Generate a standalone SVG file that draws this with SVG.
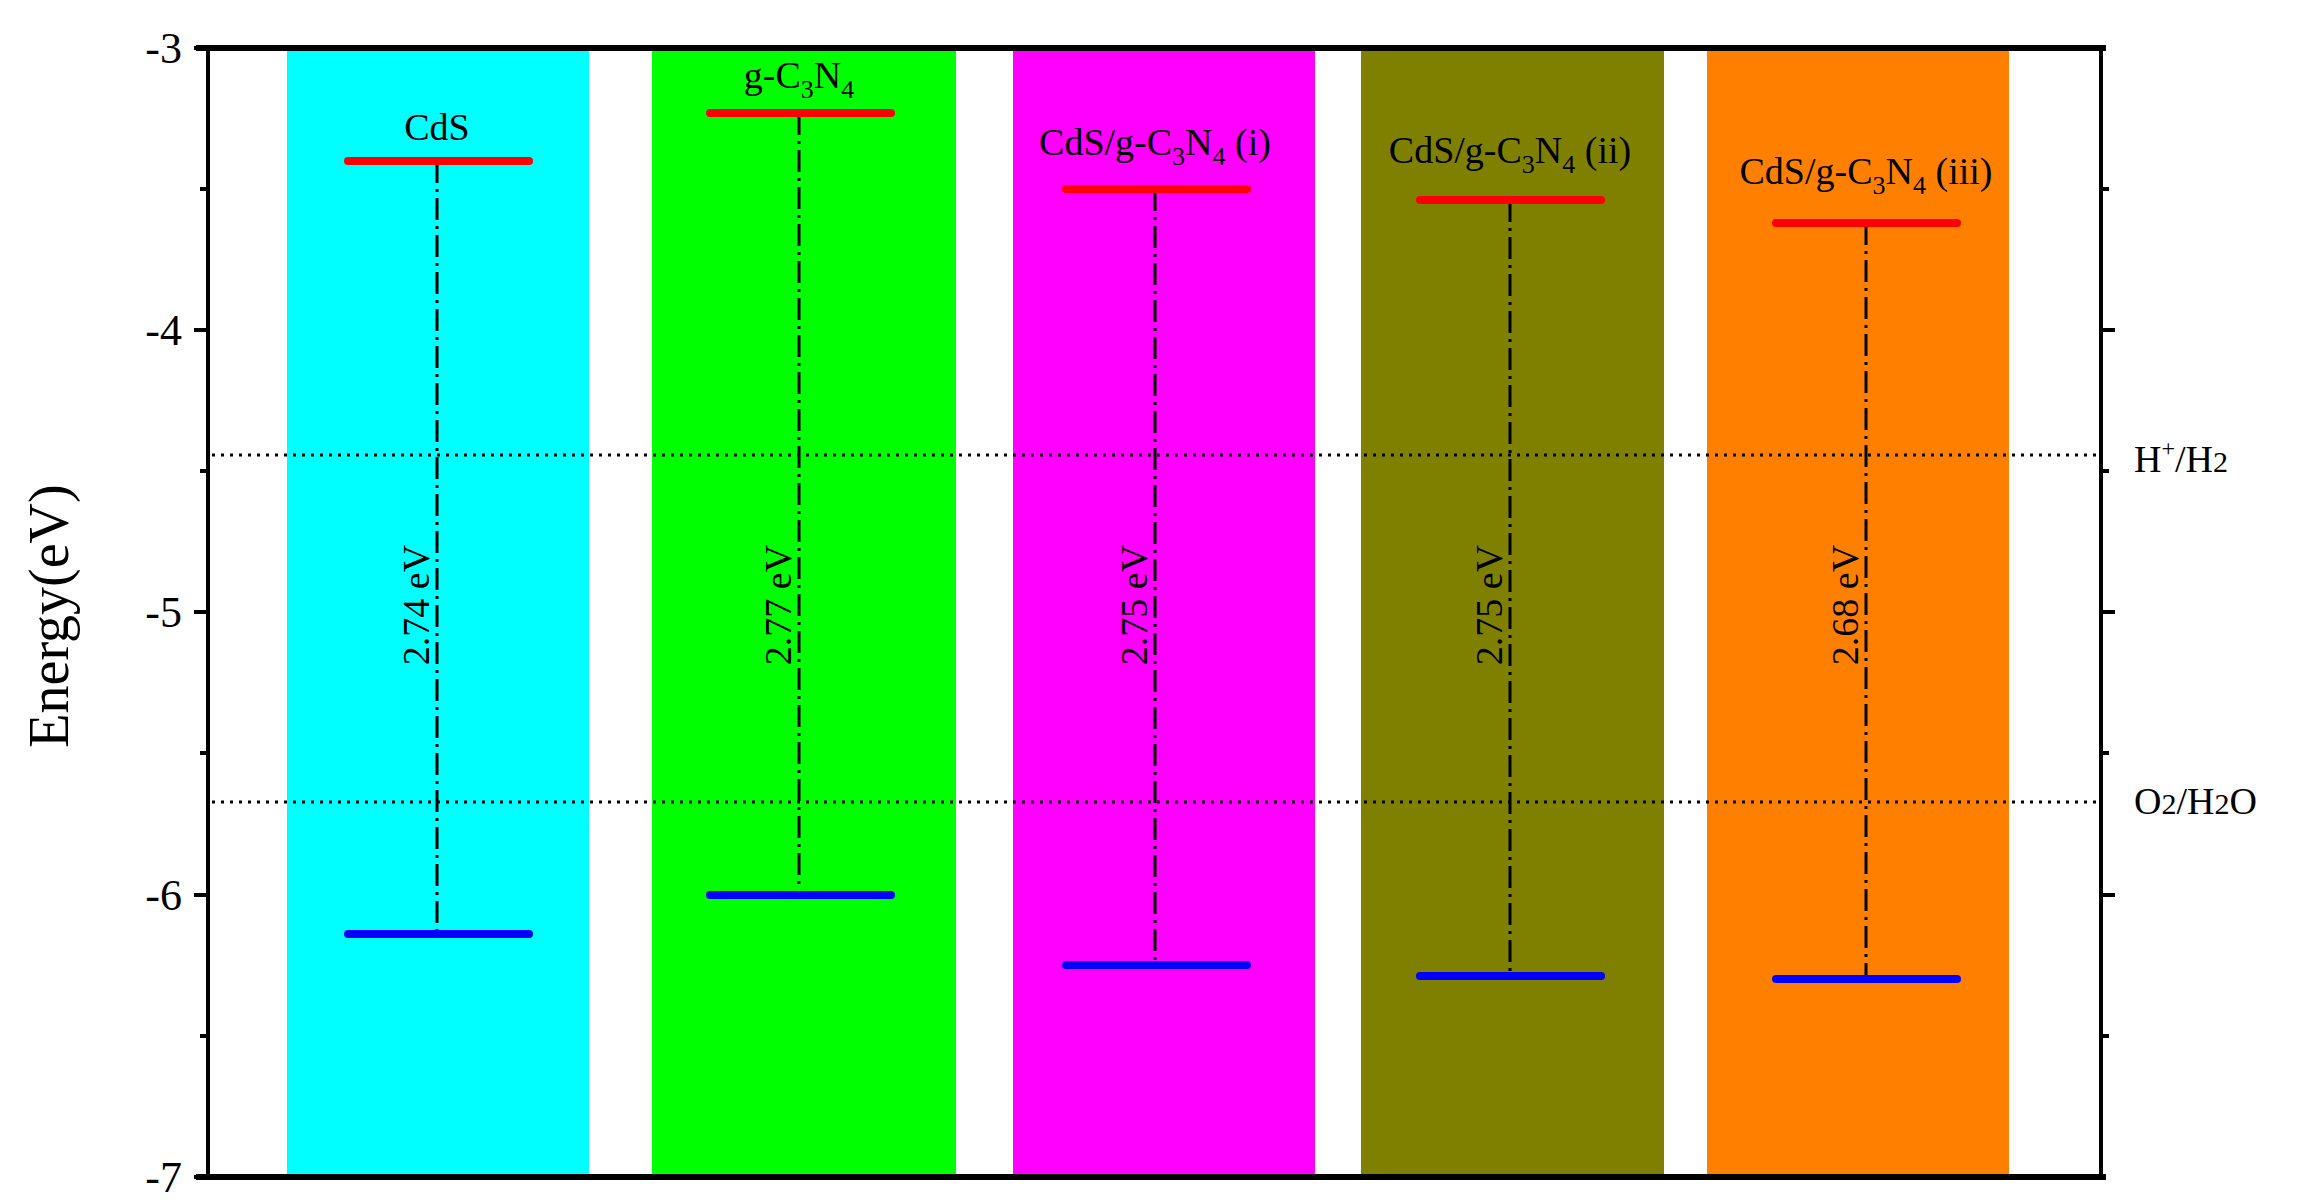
<svg xmlns="http://www.w3.org/2000/svg" width="2299" height="1199" viewBox="0 0 2299 1199">
<style>
text{font-family:"Liberation Serif","Times New Roman",serif;fill:#000}
.cb{font-size:38px;text-anchor:middle}
.gap{font-size:38px;text-anchor:middle}
.tk{font-size:44px;text-anchor:end}
.cb2{stroke:#f00;stroke-width:8;stroke-linecap:round}
.vb{stroke:#00f;stroke-width:8;stroke-linecap:round}
.dd{stroke:#000;stroke-width:3;stroke-dasharray:22,6,3,6;fill:none}
.dot{stroke:#000;stroke-width:3;stroke-dasharray:3,6}
.ax{stroke:#000;stroke-width:4;fill:none}
</style>
<rect width="2299" height="1199" fill="#fff"/>
<g id="bands">
<rect x="287" y="48" width="302" height="1126" fill="#00ffff"/>
<rect x="652" y="48" width="304" height="1129" fill="#00ff00"/>
<rect x="1013" y="48" width="302" height="1126" fill="#ff00ff"/>
<rect x="1361" y="48" width="303" height="1126" fill="#808000"/>
<rect x="1707" y="48" width="302" height="1126" fill="#ff8000"/>
</g>
<g id="refs">
<line class="dot" x1="212" y1="455" x2="2098" y2="455"/>
<line class="dot" x1="212" y1="802" x2="2098" y2="802"/>
</g>
<g id="connectors">
<line class="dd" x1="437" y1="161" x2="437" y2="934"/>
<line class="dd" x1="799" y1="113" x2="799" y2="885"/>
<line class="dd" x1="1155" y1="189" x2="1155" y2="965"/>
<line class="dd" x1="1510" y1="200" x2="1510" y2="976"/>
<line class="dd" x1="1866" y1="223" x2="1866" y2="979"/>
</g>
<g id="CdS">
<line class="cb2" x1="348" y1="161" x2="529" y2="161"/>
<line class="vb" x1="348" y1="934" x2="529" y2="934"/>
<text class="cb" x="437" y="140">CdS</text>
<text class="gap" transform="translate(429,605) rotate(-90)">2.74 eV</text>
</g>
<g id="gC3N4">
<line class="cb2" x1="710" y1="113" x2="891" y2="113"/>
<line class="vb" x1="710" y1="895" x2="891" y2="895"/>
<text class="cb" x="799" y="88">g-C<tspan font-size="26" dy="10">3</tspan><tspan dy="-10">N</tspan><tspan font-size="26" dy="10">4</tspan></text>
<text class="gap" transform="translate(791,605) rotate(-90)">2.77 eV</text>
</g>
<g id="i">
<line class="cb2" x1="1066" y1="189" x2="1247" y2="189"/>
<line class="vb" x1="1066" y1="965" x2="1247" y2="965"/>
<text class="cb" x="1155" y="155">CdS/g-C<tspan font-size="26" dy="10">3</tspan><tspan dy="-10">N</tspan><tspan font-size="26" dy="10">4</tspan><tspan dy="-10"> (i)</tspan></text>
<text class="gap" transform="translate(1147,605) rotate(-90)">2.75 eV</text>
</g>
<g id="ii">
<line class="cb2" x1="1420" y1="200" x2="1601" y2="200"/>
<line class="vb" x1="1420" y1="976" x2="1601" y2="976"/>
<text class="cb" x="1510" y="163">CdS/g-C<tspan font-size="26" dy="10">3</tspan><tspan dy="-10">N</tspan><tspan font-size="26" dy="10">4</tspan><tspan dy="-10"> (ii)</tspan></text>
<text class="gap" transform="translate(1502,605) rotate(-90)">2.75 eV</text>
</g>
<g id="iii">
<line class="cb2" x1="1776" y1="223" x2="1957" y2="223"/>
<line class="vb" x1="1776" y1="979" x2="1957" y2="979"/>
<text class="cb" x="1866" y="184">CdS/g-C<tspan font-size="26" dy="10">3</tspan><tspan dy="-10">N</tspan><tspan font-size="26" dy="10">4</tspan><tspan dy="-10"> (iii)</tspan></text>
<text class="gap" transform="translate(1858,605) rotate(-90)">2.68 eV</text>
</g>
<g id="axes">
<line x1="196" y1="48" x2="2106" y2="48" stroke="#000" stroke-width="6"/>
<line x1="196" y1="1177" x2="2106" y2="1177" stroke="#000" stroke-width="6"/>
<line class="ax" x1="208" y1="48" x2="208" y2="1177"/>
<line class="ax" x1="2101" y1="48" x2="2101" y2="1177"/>
<path class="ax" d="M194 48H208M194 330H208M194 612H208M194 895H208M194 1177H208M200 189H208M200 471H208M200 753H208M200 1036H208"/>
<path class="ax" d="M2101 330H2115M2101 612H2115M2101 895H2115M2101 189H2109M2101 471H2109M2101 753H2109M2101 1036H2109"/>
<text class="tk" x="182" y="63">-3</text>
<text class="tk" x="182" y="345">-4</text>
<text class="tk" x="182" y="627">-5</text>
<text class="tk" x="182" y="910">-6</text>
<text class="tk" x="182" y="1192">-7</text>
<text font-size="56" text-anchor="middle" transform="translate(68,616) rotate(-90)">Energy(eV)</text>
<text font-size="38" x="2134" y="472">H<tspan font-size="24" dy="-16">+</tspan><tspan dy="16">/H</tspan><tspan font-size="30">2</tspan></text>
<text font-size="38" x="2134" y="814">O<tspan font-size="30">2</tspan>/H<tspan font-size="30">2</tspan>O</text>
</g>
</svg>
